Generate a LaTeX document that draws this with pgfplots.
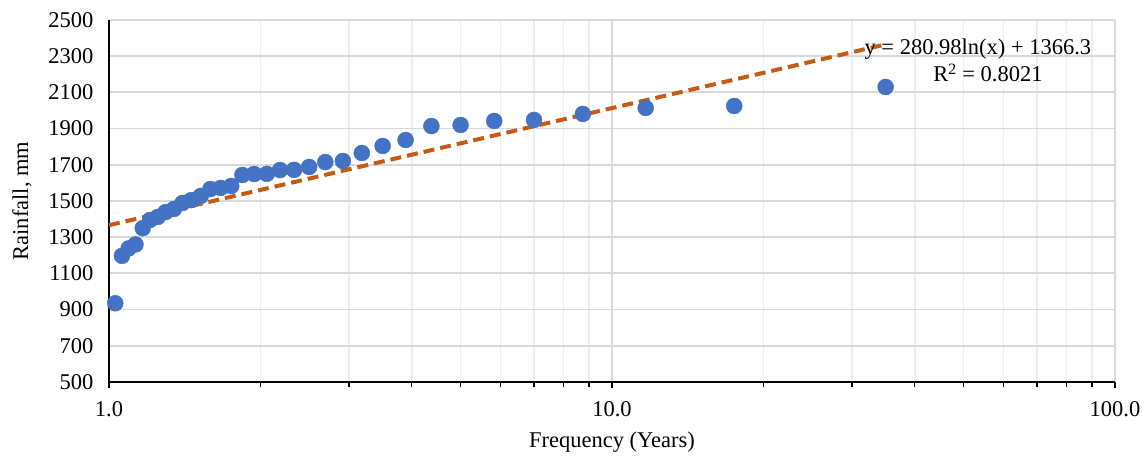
\documentclass[border=0pt]{standalone}
\usepackage{fontspec}
\setmainfont{Liberation Serif}
\usepackage{pgfplots}
\pgfplotsset{compat=1.18}
\definecolor{ptblue}{HTML}{4472C4}
\definecolor{trend}{HTML}{C55A11}
\definecolor{gridmaj}{HTML}{D9D9D9}
\definecolor{gridmin}{HTML}{EEEEEE}
\begin{document}
\begin{tikzpicture}
\begin{axis}[
  xmode=log, log basis x=10,
  scale only axis, width=1006pt, height=362pt,
  xmin=1, xmax=100, ymin=500, ymax=2500,
  xtick={1,10,100}, xticklabels={1.0,10.0,100.0},
  minor xtick={2,3,4,5,6,7,8,9,20,30,40,50,60,70,80,90},
  ytick={500,700,900,1100,1300,1500,1700,1900,2100,2300,2500},
  /pgf/number format/1000 sep={},
  axis x line=bottom, axis y line=left,
  axis line style={-, black, line width=1.6pt},
  tick align=outside,
  major tick length=6pt, minor tick length=5pt,
  xtick style={black, line width=1.2pt},
  ytick style={draw=none},
  ymajorgrids, xmajorgrids, xminorgrids,
  major grid style={gridmaj, line width=1.8pt},
  minor grid style={gridmin, line width=1.5pt},
  y grid style={gridmaj, line width=1.8pt},
  tick label style={font=\fontsize{22.5}{26}\selectfont},
  /pgf/number format/assume math mode=true,
  yticklabel style={xshift=-6pt},
  xticklabel style={yshift=-10pt},
  xlabel={Frequency (Years)}, ylabel={Rainfall, mm},
  label style={font=\fontsize{22.5}{26}\selectfont},
  xlabel style={yshift=-8pt},
  ylabel style={yshift=10pt},
  clip=false,
]
\addplot[only marks, mark=*, mark size=8pt, mark options={fill=ptblue, draw=ptblue}] coordinates {
(1.029,935) (1.061,1197) (1.094,1238) (1.129,1260) (1.167,1350) (1.207,1395) (1.250,1412)
(1.296,1439) (1.346,1456) (1.400,1489) (1.458,1505) (1.522,1528) (1.591,1566) (1.667,1572)
(1.750,1583) (1.842,1644) (1.944,1649) (2.059,1650) (2.188,1671) (2.333,1672) (2.500,1688)
(2.692,1715) (2.917,1721) (3.182,1765) (3.500,1804) (3.889,1837) (4.375,1914) (5.000,1920)
(5.833,1942) (7.000,1948) (8.750,1981) (11.667,2014) (17.500,2025) (35.000,2130)
};
\addplot[trend, line width=4pt, dash pattern=on 11pt off 6pt] coordinates {(1,1366.3) (35,2365.3)};
\node[font=\fontsize{22.5}{26}\selectfont, anchor=center] at (axis cs:53.4,2340) {y = 280.98ln(x) + 1366.3};
\node[font=\fontsize{22.5}{26}\selectfont, anchor=center] at (axis cs:55.9,2207) {R$^{\mathrm{2}}$ = 0.8021};
\end{axis}
\pgfresetboundingbox
\path[use as bounding box] ([shift={(-109pt,-77pt)}]current axis.south west) rectangle ([shift={(29pt,20pt)}]current axis.north east);
\end{tikzpicture}
\end{document}
